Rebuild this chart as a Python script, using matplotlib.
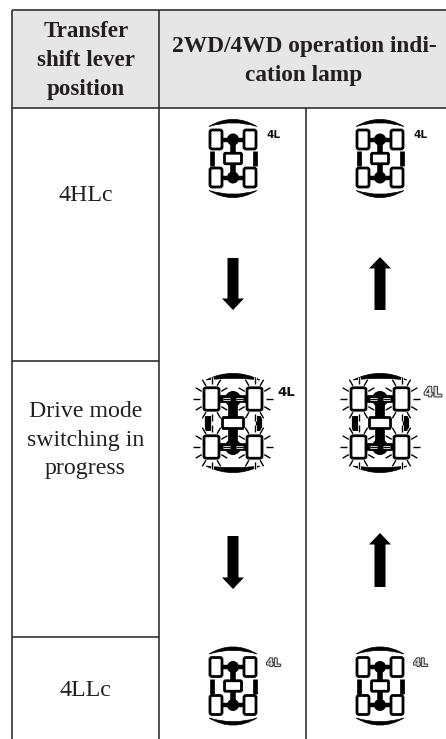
#!/usr/bin/env python3
"""
Transfer shift lever position / 4WD indication lamp table, drawn in pixel coordinates.
"""
import numpy as np
import matplotlib
matplotlib.use("Agg")
import matplotlib.pyplot as plt
import matplotlib.patheffects as pe
from matplotlib.patches import Rectangle, Circle, PathPatch, FancyBboxPatch, Polygon
from matplotlib.path import Path

INK = "#231f20"
HEADER_BG = "#e6e6e6"

# table contents
header_left = ["Transfer", "shift lever", "position"]
header_right = ["2WD/4WD operation indi-", "cation lamp"]
positions = ["4HLc", "Drive mode\nswitching in\nprogress", "4LLc"]

# table grid
col_x = [12, 159, 306]
row_y = [10, 108, 361, 637]

# lamp state per row: (left col, right col), the label style is solid or outline
lamp_rows_y = [158.5, 423, 686]
lamp_cols_x = [233, 380]
lamp_flash = [False, True, False]
lamp_label = [("solid", "solid"), ("solid", "outline"), ("outline", "outline")]

# arrows per column: (start y, tip y)
arrows_left = [(258, 310), (536, 589)]
arrows_right = [(310, 257), (587, 533)]


def bar(ax, x0, y0, x1, y1, lw=1.1, color=INK, z=3):
    ax.plot([x0, x1], [y0, y1], color=color, lw=lw, solid_capstyle="butt", zorder=z)


def draw_arrow(ax, x, y_start, y_tip):
    d = 1 if y_tip > y_start else -1
    ax.add_patch(Polygon([
        (x - 5.5, y_start), (x + 5.5, y_start), (x + 5.5, y_tip - 11.5 * d),
        (x + 11, y_tip - 11.5 * d), (x, y_tip), (x - 11, y_tip - 11.5 * d),
        (x - 5.5, y_tip - 11.5 * d)], closed=True, fc="black", ec="none", zorder=4))


def crescent(ax, cx, y_end, y_peak, half, thick):
    verts = [(cx - half, y_end), (cx, y_peak - (y_end - y_peak) * 0.9), (cx + half, y_end),
             (cx, y_peak - (y_end - y_peak) * 0.9 + thick * 2), (cx - half, y_end), (cx - half, y_end)]
    codes = [Path.MOVETO, Path.CURVE3, Path.CURVE3, Path.CURVE3, Path.CURVE3, Path.CLOSEPOLY]
    ax.add_patch(PathPatch(Path(verts, codes), fc="black", ec="black", lw=0.5, zorder=5))


def rays(ax, x, y, rx, ry, angles, length):
    for a in np.radians(angles):
        x0 = x + rx * np.cos(a)
        y0 = y + ry * np.sin(a)
        ax.plot([x0, x0 + length * np.cos(a)], [y0, y0 + length * np.sin(a)], color="black",
                lw=1.0, zorder=9, solid_capstyle="butt",
                path_effects=[pe.withStroke(linewidth=2.2, foreground="white")])


def draw_lamp(ax, cx, cy, flash, label_style):
    if flash:
        dx, dy, tw, th, box_w, box_h, diff_r, half, lw = 21.5, 24, 15, 22.5, 21, 11, 8, 27, 7
        top, peak = cy - 43, cy - 50
    else:
        dx, dy, tw, th, box_w, box_h, diff_r, half, lw = 17, 19, 12, 19, 17, 10.5, 6, 24, 4
        top, peak = cy - 32, cy - 39.5

    # drive line
    bar(ax, cx, cy - dy, cx, cy + dy, lw=lw, color="black", z=4)
    for sy in (-1, 1):
        bar(ax, cx - dx, cy + sy * dy, cx + dx, cy + sy * dy, lw=lw * 0.8, color="black", z=4)
        ax.add_patch(Circle((cx, cy + sy * dy), diff_r, fc="black", ec="none", zorder=4))
        # wheels
        for sx in (-1, 1):
            ax.add_patch(FancyBboxPatch(
                (cx + sx * dx - tw / 2, cy + sy * dy - th / 2), tw, th,
                boxstyle="round,pad=0,rounding_size=2", fc="white", ec="black", lw=2.0, zorder=6))

    # centre box
    ax.add_patch(FancyBboxPatch((cx - box_w / 2, cy - box_h / 2), box_w, box_h,
                                boxstyle="round,pad=0,rounding_size=1.2", fc="white", ec="black",
                                lw=2.0, zorder=6))

    # body arcs
    crescent(ax, cx, top, peak, half, 3.4 if not flash else 5)
    crescent(ax, cx, 2 * cy - top, 2 * cy - peak, half, -3.4 if not flash else -5)
    for sx in (-1, 1):
        x_side = cx + sx * (dx + tw / 2 - (1.5 if not flash else 3.5))
        bar(ax, x_side, cy - 7.5, x_side, cy + 7.5, lw=3.4 if not flash else 4.5, color="black", z=4)

    if flash:
        for sy in (-1, 1):
            for sx in (-1, 1):
                x, y = cx + sx * dx, cy + sy * dy
                rays(ax, x, y, tw * 0.75, th * 0.68, np.arange(0, 360, 30), 7)

    # 4L tag
    x_tag = cx + (33.5 if not flash else 44)
    y_tag = cy + (-23 if not flash else -30)
    size = 7.6 if not flash else 9.6
    if label_style == "solid":
        ax.text(x_tag, y_tag, "4L", fontsize=size, fontweight="bold", family="DejaVu Sans",
                color="#111111", ha="left", va="center", zorder=7)
    else:
        ax.text(x_tag, y_tag, "4L", fontsize=size, fontweight="bold", family="DejaVu Sans",
                color="#dddddd", ha="left", va="center", zorder=7,
                path_effects=[pe.withStroke(linewidth=1.4, foreground="#333333")])


def main():
    fig = plt.figure(figsize=(4.46, 7.39), dpi=100)
    ax = fig.add_axes([0, 0, 1, 1])
    ax.set_xlim(0, 446)
    ax.set_ylim(739, 0)
    ax.axis("off")

    ax.add_patch(Rectangle((col_x[0], row_y[0]), 446 - col_x[0], row_y[1] - row_y[0],
                           fc=HEADER_BG, ec="none", zorder=1))

    # grid lines, the right side and the bottom stay open
    bar(ax, col_x[0], row_y[0], 446, row_y[0])
    bar(ax, col_x[0], row_y[1], 446, row_y[1])
    bar(ax, col_x[0], row_y[2], col_x[1], row_y[2])
    bar(ax, col_x[0], row_y[3], col_x[1], row_y[3])
    bar(ax, col_x[0], row_y[0], col_x[0], 739)
    bar(ax, col_x[1], row_y[0], col_x[1], 739)
    bar(ax, col_x[2], row_y[1], col_x[2], 739)

    serif = "Liberation Serif"
    for line, y in zip(header_left, [37, 66, 95]):
        ax.text(86, y, line, family=serif, fontweight="bold", fontsize=16.6, color=INK,
                ha="center", va="baseline")
    for line, y in zip(header_right, [52, 81]):
        ax.text(304, y, line, family=serif, fontweight="bold", fontsize=16.8, color=INK,
                ha="center", va="baseline")

    body_y = [[201], [417, 446, 474], [696]]
    for label, ys in zip(positions, body_y):
        for line, y in zip(label.split("\n"), ys):
            ax.text(85.5, y, line, family=serif, fontsize=17.2, color=INK, ha="center", va="baseline")

    for cy, flash, styles in zip(lamp_rows_y, lamp_flash, lamp_label):
        for cx, style in zip(lamp_cols_x, styles):
            draw_lamp(ax, cx, cy, flash, style)

    for y0, y1 in arrows_left:
        draw_arrow(ax, lamp_cols_x[0], y0, y1)
    for y0, y1 in arrows_right:
        draw_arrow(ax, lamp_cols_x[1], y0, y1)

    fig.savefig("out.png", dpi=100, facecolor="white")


if __name__ == "__main__":
    main()
